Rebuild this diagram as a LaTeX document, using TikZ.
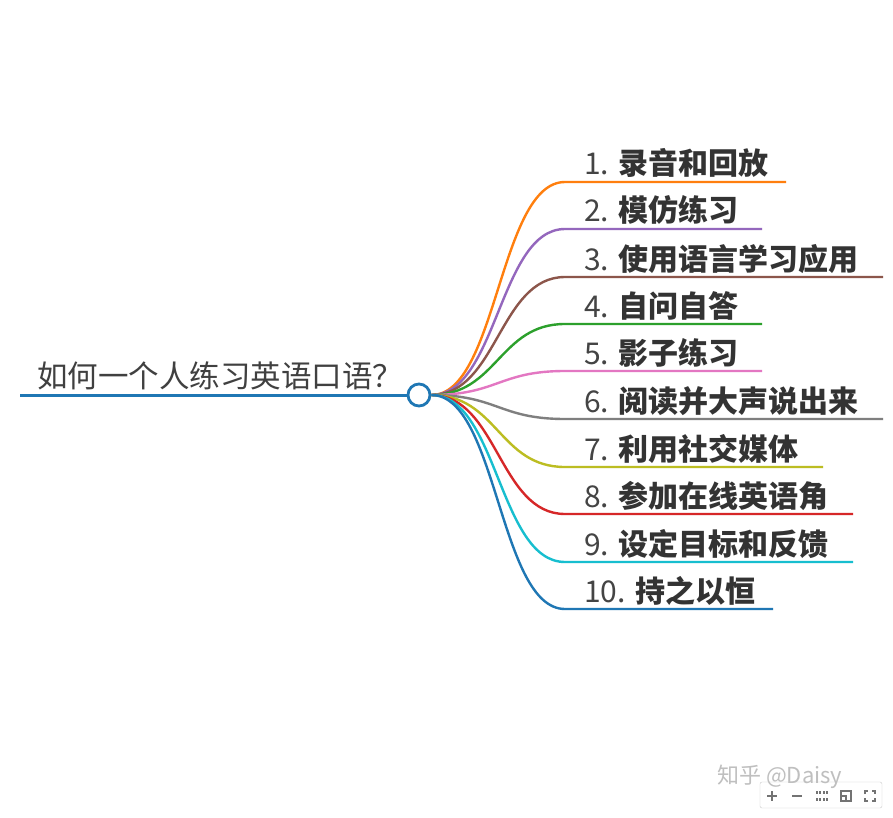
\documentclass[tikz,border=0pt]{standalone}
\usepackage{fontspec}
\setmainfont{Noto Sans CJK SC}
\usetikzlibrary{positioning}
\definecolor{cRoot}{HTML}{1F77B4}
\definecolor{cOne}{HTML}{FF7F0E}
\definecolor{cTwo}{HTML}{9467BD}
\definecolor{cThree}{HTML}{8C564B}
\definecolor{cFour}{HTML}{2CA02C}
\definecolor{cFive}{HTML}{E377C2}
\definecolor{cSix}{HTML}{7F7F7F}
\definecolor{cSeven}{HTML}{BCBD22}
\definecolor{cEight}{HTML}{D62728}
\definecolor{cNine}{HTML}{17BECF}
\definecolor{cTen}{HTML}{1F77B4}
\newcommand{\num}[1]{{\color[HTML]{444444}\mdseries #1}}
\tikzset{
  hubnode/.style={circle,draw=cRoot,fill=white,line width=2.8pt,minimum size=22pt,inner sep=0pt},
  rootline/.style={draw=cRoot,line width=3pt},
  branch/.style={line width=2.4pt},
  item/.style={anchor=base west,inner sep=0pt,text=black!80,font=\fontsize{30}{35}\selectfont\bfseries},
  roottext/.style={anchor=base west,inner sep=0pt,text=black!75,font=\fontsize{30.5}{35}\selectfont},
  icon/.style={draw=black!55,line width=1.2pt}
}
\begin{document}
\begin{tikzpicture}[x=1pt,y=-1pt]
\useasboundingbox[fill=white] (0,0) rectangle (893,818);

% root
\node[hubnode] (hub) at (419,395) {};
\coordinate (rootL) at (20,395);
\draw[rootline] (rootL) -- (hub.west);
\node[roottext] (question) at (37,387) {如何一个人练习英语口语？};

% branch ends
\coordinate (a1) at (565,182);  \coordinate (b1) at (786,182);
\coordinate (a2) at (565,229);  \coordinate (b2) at (762,229);
\coordinate (a3) at (565,277);  \coordinate (b3) at (883,277);
\coordinate (a4) at (565,324);  \coordinate (b4) at (762,324);
\coordinate (a5) at (565,371);  \coordinate (b5) at (762,371);
\coordinate (a6) at (565,419);  \coordinate (b6) at (883,419);
\coordinate (a7) at (565,467);  \coordinate (b7) at (823,467);
\coordinate (a8) at (565,514);  \coordinate (b8) at (853,514);
\coordinate (a9) at (565,562);  \coordinate (b9) at (853,562);
\coordinate (a10) at (565,609); \coordinate (b10) at (773,609);

% branches
\draw[branch,cOne]   (hub.east) .. controls +(66,0) and +(-66,0) .. (a1) -- (b1);
\draw[branch,cTwo]   (hub.east) .. controls +(66,0) and +(-66,0) .. (a2) -- (b2);
\draw[branch,cThree] (hub.east) .. controls +(66,0) and +(-66,0) .. (a3) -- (b3);
\draw[branch,cFour]  (hub.east) .. controls +(66,0) and +(-66,0) .. (a4) -- (b4);
\draw[branch,cFive]  (hub.east) .. controls +(66,0) and +(-66,0) .. (a5) -- (b5);
\draw[branch,cSix]   (hub.east) .. controls +(66,0) and +(-66,0) .. (a6) -- (b6);
\draw[branch,cSeven] (hub.east) .. controls +(66,0) and +(-66,0) .. (a7) -- (b7);
\draw[branch,cEight] (hub.east) .. controls +(66,0) and +(-66,0) .. (a8) -- (b8);
\draw[branch,cNine]  (hub.east) .. controls +(66,0) and +(-66,0) .. (a9) -- (b9);
\draw[branch,cTen]   (hub.east) .. controls +(66,0) and +(-66,0) .. (a10) -- (b10);

% labels
\node[item] (t1) at (584,175) {\num{1.} 录音和回放};
\node[item] (t2) at (584,222) {\num{2.} 模仿练习};
\node[item] (t3) at (584,270) {\num{3.} 使用语言学习应用};
\node[item] (t4) at (584,317) {\num{4.} 自问自答};
\node[item] (t5) at (584,364) {\num{5.} 影子练习};
\node[item] (t6) at (584,412) {\num{6.} 阅读并大声说出来};
\node[item] (t7) at (584,460) {\num{7.} 利用社交媒体};
\node[item] (t8) at (584,507) {\num{8.} 参加在线英语角};
\node[item] (t9) at (584,555) {\num{9.} 设定目标和反馈};
\node[item] (t10) at (584,602) {\num{10.} 持之以恒};

% watermark and toolbar
\node[draw=black!20,rounded corners=2pt,minimum width=122pt,minimum height=26pt,inner sep=0pt] (bar) at (821,795) {};
\node[anchor=base west,inner sep=0pt,text=black!25,font=\fontsize{22}{26}\selectfont] (mark) at (717,783) {知乎 @Daisy};
\draw[icon] (767,796) -- (777,796) (772,791) -- (772,801);
\draw[icon] (792,796) -- (802,796);
\draw[icon] (817,791) -- (817,794) (820,791) -- (820,794) (817,798) -- (817,801) (820,798) -- (820,801)
  (824,791) -- (824,794) (827,791) -- (827,794) (824,798) -- (824,801) (827,798) -- (827,801);
\draw[icon] (841,791) rectangle (851,801) (841,796) -- (846,796) -- (846,801);
\draw[icon] (865,794) |- (868,791) (872,791) -| (875,794) (875,798) |- (872,801) (868,801) -| (865,798);
\end{tikzpicture}
\end{document}
